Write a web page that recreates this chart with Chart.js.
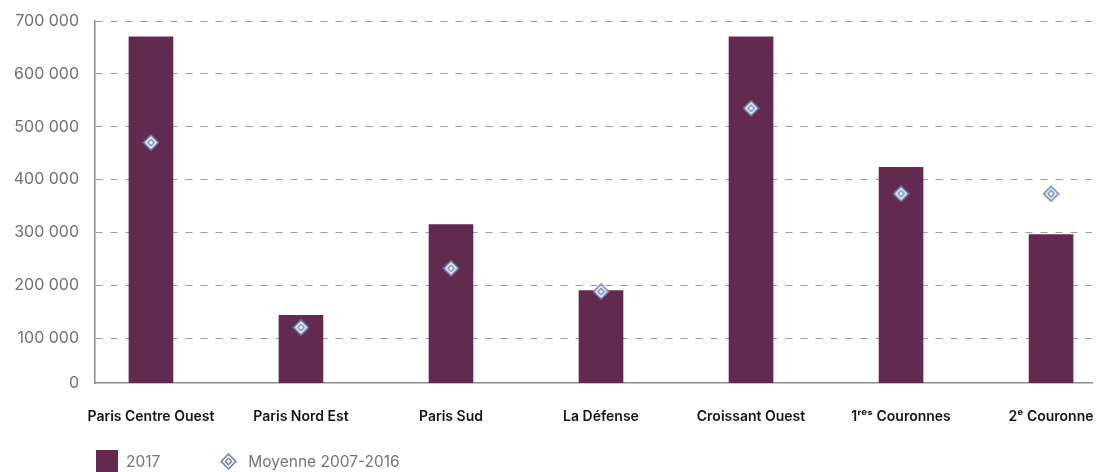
<!DOCTYPE html>
<html>
<head>
<meta charset="utf-8">
<script src="https://cdn.jsdelivr.net/npm/chart.js@4/dist/chart.umd.min.js"></script>
<style>
  html, body { margin: 0; padding: 0; background: #fff; }
  #wrap { position: relative; width: 1097px; height: 472px; overflow: hidden; }
  #legend { position: absolute; left: 96px; top: 450px; display: flex; align-items: center;
            font-family: Inter, "Open Sans", sans-serif; font-size: 15.5px; color: #757575; }
  .item { display: flex; align-items: center; margin-right: 58px; height: 22px; }
  .sw { width: 22px; height: 22px; margin-right: 8px; }
  .dm { margin: 0 11px 0 2px; }
</style>
</head>
<body>
<div id="wrap">
  <canvas id="c" width="1097" height="472"></canvas>
  <div id="legend"></div>
</div>
<script>
// ---- data ----
const categories = ['Paris Centre Ouest', 'Paris Nord Est', 'Paris Sud', 'La Défense', 'Croissant Ouest', '1ʳᵉˢ Couronnes', '2ᵉ Couronne'];
const values2017 = [670000, 143000, 315000, 190000, 670000, 423000, 296000];
const moyenne = [470000, 120000, 232000, 188000, 535000, 373000, 373000];
const seriesNames = ['2017', 'Moyenne 2007-2016'];
const yTicks = [0, 100000, 200000, 300000, 400000, 500000, 600000, 700000];

// ---- styles ----
const BAR_COLOR = '#632a50';
const DIAMOND_COLOR = '#6c86b6';
const Y_MIN = 15000; // visual axis bottom (labelled 0 in the reference)
const Y_MAX = 700000;

function makeDiamond(size) {
  const cv = document.createElement('canvas');
  cv.width = size; cv.height = size;
  const g = cv.getContext('2d');
  const c = size / 2;
  const layers = [[c, DIAMOND_COLOR], [c - 2.3, '#ffffff'], [c - 4.3, DIAMOND_COLOR], [c - 6.3, '#ffffff']];
  layers.forEach(([r, col]) => {
    g.beginPath();
    g.moveTo(c, c - r); g.lineTo(c + r, c); g.lineTo(c, c + r); g.lineTo(c - r, c); g.closePath();
    g.fillStyle = col; g.fill();
  });
  return cv;
}
const diamond = makeDiamond(17);

const fmt = v => String(v).replace(/\B(?=(\d{3})+(?!\d))/g, ' ');

new Chart(document.getElementById('c'), {
  data: {
    datasets: [
      {
        type: 'bar',
        label: seriesNames[0],
        data: categories.map((c, i) => ({ x: i, y: values2017[i] })),
        backgroundColor: BAR_COLOR,
        barThickness: 44,
        order: 2
      },
      {
        type: 'line',
        label: seriesNames[1],
        data: categories.map((c, i) => ({ x: i, y: moyenne[i] })),
        showLine: false,
        pointStyle: diamond,
        pointRadius: 8,
        order: 1
      }
    ]
  },
  options: {
    responsive: false,
    animation: false,
    layout: { autoPadding: false, padding: { top: 21, right: 5, left: 0, bottom: 0 } },
    plugins: { legend: { display: false }, tooltip: { enabled: false } },
    scales: {
      x: {
        type: 'linear',
        offset: false,
        min: -0.373,
        max: 6.273,
        afterBuildTicks: s => { s.ticks = categories.map((c, i) => ({ value: i })); },
        afterFit: s => { s.height = 89; s.paddingLeft = 0; s.paddingRight = 0; },
        grid: { display: false, drawTicks: false, offset: false },
        border: { display: true, color: '#8a8a8a', width: 1.5 },
        ticks: {
          autoSkip: false,
          maxRotation: 0,
          padding: 25,
          color: '#151515',
          font: { family: 'Inter, "Open Sans", sans-serif', size: 14, weight: '600' },
          callback: v => categories[v]
        }
      },
      y: {
        type: 'linear',
        min: Y_MIN,
        max: Y_MAX,
        afterBuildTicks: s => { s.ticks = yTicks.map(v => ({ value: v === 0 ? Y_MIN : v })); },
        afterFit: s => { s.width = 95; s.paddingTop = 0; s.paddingBottom = 0; },
        grid: {
          drawTicks: false,
          color: ctx => (ctx.tick && ctx.tick.value === Y_MIN) ? 'rgba(0,0,0,0)' : '#9c9c9c',
          lineWidth: 1
        },
        border: { display: true, color: '#8a8a8a', width: 1.5, dash: [7, 8] },
        ticks: {
          padding: 16,
          color: '#707070',
          font: { family: 'Inter, "Open Sans", sans-serif', size: 16 },
          callback: v => v === Y_MIN ? '0' : fmt(v)
        }
      }
    }
  }
});

// legend (HTML)
const lg = document.getElementById('legend');
const i1 = document.createElement('div'); i1.className = 'item';
const sw = document.createElement('div'); sw.className = 'sw'; sw.style.background = BAR_COLOR;
i1.appendChild(sw); i1.appendChild(document.createTextNode(seriesNames[0]));
const i2 = document.createElement('div'); i2.className = 'item';
const dm = makeDiamond(17); dm.className = 'dm';
i2.appendChild(dm); i2.appendChild(document.createTextNode(seriesNames[1]));
lg.appendChild(i1); lg.appendChild(i2);
</script>
</body>
</html>
